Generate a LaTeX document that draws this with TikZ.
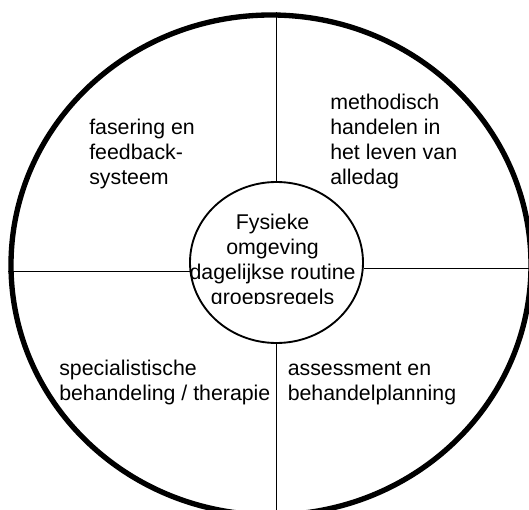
\documentclass[tikz,border=0pt]{standalone}
\usepackage{fontspec}
\setmainfont{Liberation Sans}
\usetikzlibrary{shapes.geometric}

\begin{document}
\begin{tikzpicture}[x=0.75pt, y=-0.75pt,
  every node/.style={font=\fontsize{16}{18.75}\selectfont},
  sector/.style={align=left, anchor=north west, inner sep=0pt},
  spoke/.style={line width=1.2pt}]
  \clip (0,0) rectangle (529,510);
  \node (wheel) [ellipse, draw, line width=4pt, inner sep=0pt,
    minimum width=390pt, minimum height=375pt] at (271,265) {};
  \node (core) [ellipse, draw, line width=1.4pt, inner sep=0pt,
    minimum width=129.75pt, minimum height=120.75pt] at (276.5,262.5) {};
  \path[spoke]
  (core.north) edge (core.north |- wheel.north)
  (core.south) edge (core.south |- wheel.south)
  (core.186) edge (core.186 -| wheel.west)
  (core.-4) edge (core.-4 -| wheel.east);
  % de vier sectoren
  \node (fase) [sector] at (89,118.5) {fasering en\\feedback-\\systeem};
  \node (methode) [sector] at (330,94) {methodisch\\handelen in\\het leven van\\alledag};
  \node (therapie) [sector] at (59,360) {specialistische\\behandeling / therapie};
  \node (planning) [sector] at (287.5,361.5) {assessment en\\behandelplanning};
  \begin{scope}
    \clip (0,0) rectangle (529,303);
    \node (routine) [align=center, anchor=north, inner sep=0pt] at (272.6,214)
      {Fysieke\\omgeving\\dagelijkse routine\\groepsregels};
  \end{scope}
\end{tikzpicture}
\end{document}
